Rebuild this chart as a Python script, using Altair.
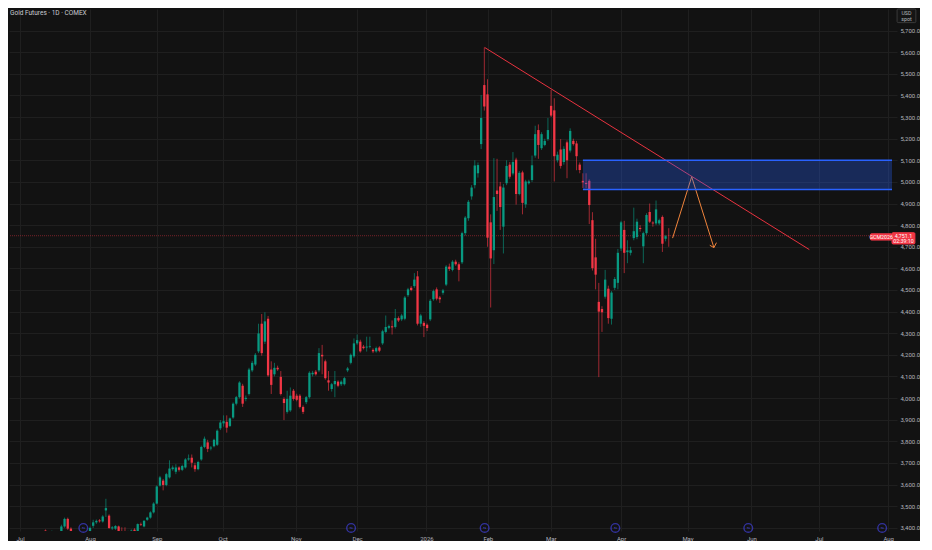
import altair as alt
import pandas as pd

# ---- daily candles (bar index 0 = first trading day of Jul 2025) ----
opens = [3345, 3355, 3360, 3342, 3330, 3345, 3335, 3360, 3387, 3372,
         3358, 3366, 3352, 3376, 3406, 3441, 3396, 3376, 3360, 3348,
         3338, 3330, 3350, 3409, 3425, 3434, 3429, 3480, 3456, 3397,
         3396, 3406, 3384, 3383, 3378, 3376, 3391, 3384, 3417, 3406,
         3437, 3447, 3471, 3512, 3595, 3618, 3598, 3633, 3671, 3659,
         3679, 3668, 3679, 3716, 3724, 3689, 3671, 3716, 3774, 3795,
         3767, 3777, 3784, 3860, 3883, 3890, 3871, 3910, 3974, 4004,
         4057, 3996, 4019, 4128, 4155, 4216, 4344, 4261, 4367, 4132,
         4110, 4140, 4098, 3996, 3936, 3943, 4034, 4011, 4011, 3959,
         3981, 4004, 4110, 4122, 4128, 4200, 4170, 4082, 4042, 4064,
         4076, 4064, 4064, 4128, 4163, 4193, 4253, 4261, 4238, 4234,
         4238, 4223, 4216, 4234, 4253, 4306, 4325, 4332, 4329, 4370,
         4364, 4367, 4476, 4510, 4518, 4563, 4344, 4348, 4339, 4364,
         4457, 4503, 4465, 4487, 4525, 4608, 4593, 4631, 4619, 4628,
         4763, 4832, 4933, 4985, 5040, 5175, 5448, 5405, 4813, 4684,
         4960, 4979, 4793, 4994, 5080, 5039, 5103, 4944, 5044, 4896,
         4994, 5009, 5122, 5240, 5156, 5171, 5198, 5352, 5331, 5100,
         5150, 5092, 5183, 5145, 5190, 5178, 5080, 5005, 4995, 5005,
         4823, 4651, 4445, 4412, 4469, 4506, 4367, 4510, 4533, 4692,
         4778, 4675, 4672, 4740, 4745, 4787, 4702, 4763, 4861, 4812,
         4808, 4808, 4838, 4737, 4752]
highs = [3362, 3370, 3368, 3350, 3352, 3350, 3365, 3385, 3392, 3378,
         3387, 3372, 3382, 3414, 3447, 3447, 3402, 3382, 3368, 3356,
         3362, 3355, 3405, 3437, 3438, 3440, 3458, 3534, 3462, 3408,
         3412, 3410, 3402, 3402, 3386, 3392, 3398, 3420, 3424, 3436,
         3451, 3476, 3518, 3596, 3640, 3626, 3654, 3712, 3688, 3694,
         3684, 3692, 3722, 3739, 3739, 3701, 3710, 3780, 3822, 3807,
         3778, 3812, 3855, 3898, 3920, 3920, 3910, 3980, 4010, 4078,
         4066, 4012, 4140, 4172, 4208, 4344, 4389, 4397, 4380, 4170,
         4163, 4150, 4125, 4004, 4034, 4049, 4042, 4020, 4018, 3966,
         4010, 4124, 4126, 4130, 4231, 4246, 4178, 4125, 4070, 4125,
         4082, 4082, 4098, 4144, 4206, 4276, 4294, 4270, 4246, 4284,
         4284, 4230, 4238, 4240, 4316, 4382, 4340, 4359, 4412, 4378,
         4390, 4472, 4510, 4518, 4578, 4588, 4390, 4356, 4345, 4458,
         4502, 4512, 4472, 4505, 4615, 4622, 4638, 4640, 4628, 4770,
         4842, 4916, 4985, 5100, 5090, 5402, 5622, 5475, 4850, 5110,
         5107, 5000, 4990, 5100, 5092, 5138, 5112, 5050, 5052, 5010,
         5010, 5122, 5260, 5266, 5230, 5200, 5296, 5425, 5387, 5140,
         5198, 5165, 5192, 5248, 5200, 5190, 5090, 5040, 5040, 5012,
         4860, 4737, 4533, 4425, 4593, 4520, 4495, 4560, 4690, 4820,
         4820, 4730, 4700, 4881, 4830, 4800, 4770, 4855, 4900, 4818,
         4914, 4830, 4845, 4755, 4786]
lows = [3330, 3340, 3335, 3320, 3318, 3325, 3330, 3350, 3362, 3352,
        3345, 3340, 3345, 3370, 3400, 3390, 3370, 3352, 3340, 3330,
        3318, 3322, 3345, 3399, 3418, 3424, 3424, 3450, 3395, 3390,
        3390, 3376, 3374, 3372, 3370, 3372, 3376, 3380, 3408, 3402,
        3432, 3442, 3466, 3508, 3590, 3573, 3592, 3628, 3664, 3648,
        3660, 3662, 3674, 3710, 3679, 3659, 3666, 3710, 3768, 3750,
        3758, 3772, 3778, 3852, 3868, 3840, 3866, 3904, 3966, 3998,
        3959, 3985, 4012, 4120, 4148, 4208, 4196, 4250, 4098, 4019,
        4100, 4126, 4012, 3898, 3928, 3936, 3988, 3985, 3952, 3926,
        3972, 3998, 4100, 4104, 4120, 4110, 4085, 4034, 4030, 4004,
        4050, 4056, 4058, 4120, 4156, 4186, 4246, 4210, 4225, 4215,
        4230, 4208, 4210, 4212, 4246, 4300, 4318, 4294, 4322, 4352,
        4356, 4360, 4468, 4494, 4510, 4336, 4330, 4282, 4310, 4356,
        4450, 4452, 4440, 4478, 4518, 4588, 4586, 4612, 4540, 4620,
        4752, 4820, 4918, 4970, 5020, 5152, 5330, 4700, 4419, 4620,
        4866, 4778, 4669, 4985, 5015, 5030, 4895, 4938, 4850, 4880,
        4988, 5000, 5112, 5107, 5148, 5165, 5190, 5300, 5002, 5090,
        5062, 5080, 5017, 5136, 5168, 5054, 5040, 4972, 4972, 4805,
        4590, 4503, 4097, 4306, 4460, 4344, 4340, 4500, 4503, 4680,
        4578, 4624, 4660, 4730, 4735, 4770, 4624, 4755, 4810, 4793,
        4800, 4800, 4676, 4725, 4700]
closes = [3355, 3360, 3342, 3330, 3345, 3335, 3360, 3375, 3381, 3358,
          3384, 3352, 3376, 3406, 3441, 3396, 3376, 3360, 3348, 3338,
          3330, 3350, 3399, 3425, 3432, 3430, 3452, 3491, 3399, 3402,
          3408, 3381, 3376, 3378, 3380, 3387, 3381, 3417, 3414, 3432,
          3447, 3471, 3512, 3591, 3633, 3598, 3648, 3674, 3679, 3679,
          3668, 3686, 3716, 3721, 3701, 3671, 3704, 3774, 3812, 3765,
          3771, 3807, 3849, 3887, 3893, 3863, 3906, 3974, 4004, 4072,
          3974, 4001, 4132, 4163, 4200, 4299, 4208, 4355, 4105, 4061,
          4140, 4133, 4019, 3977, 3996, 4011, 3996, 3992, 3959, 3936,
          4004, 4117, 4117, 4110, 4208, 4193, 4092, 4072, 4064, 4079,
          4057, 4076, 4092, 4137, 4200, 4253, 4268, 4216, 4231, 4238,
          4241, 4216, 4231, 4219, 4309, 4329, 4333, 4327, 4370, 4359,
          4382, 4465, 4503, 4500, 4548, 4344, 4382, 4334, 4324, 4450,
          4495, 4460, 4457, 4498, 4608, 4597, 4631, 4619, 4593, 4763,
          4835, 4908, 4974, 5076, 5078, 5296, 5349, 4742, 4646, 4930,
          4944, 4884, 4974, 5074, 5024, 5092, 4944, 5042, 4903, 5002,
          5002, 5077, 5221, 5171, 5221, 5190, 5240, 5307, 5119, 5126,
          5074, 5153, 5100, 5236, 5175, 5119, 5055, 4998, 4990, 4893,
          4601, 4571, 4400, 4397, 4548, 4370, 4488, 4551, 4672, 4813,
          4672, 4683, 4684, 4772, 4816, 4782, 4763, 4847, 4816, 4808,
          4873, 4823, 4714, 4749, 4751.1]

# ---- axes ----
month_pos = [0, 22, 43, 63.7, 86.7, 106, 127.8, 147.1, 166.9, 189, 209.9, 230, 251.2, 273]
month_lbl = ["Jul", "Aug", "Sep", "Oct", "Nov", "Dec", "2026", "Feb", "Mar", "Apr",
             "May", "Jun", "Jul", "Aug"]
price_ticks = [3400, 3500, 3600, 3700, 3800, 3900, 4000, 4100, 4200, 4300, 4400, 4500,
               4600, 4700, 4800, 4900, 5000, 5100, 5200, 5300, 5400, 5500, 5600, 5700]
x_domain = [-1.9, 274.2]
y_domain = [3385, 5800]

# ---- drawings ----
last_price = 4751.1
trend_x = [146.1, 248.2]
trend_y = [5622, 4687]
arrow_x = [205.2, 211.2, 218.2]
arrow_y = [4740, 5024, 4696]
head_x = [216.9, 219.0]
head_y = [4707, 4719]
zone_x = [177.0, 274.2]
zone_y = [4965, 5100]
event_x = [19.9, 104.1, 146.1, 187.2, 229.0, 271.1]
event_y = 3399

UP, DOWN = "#089981", "#f23645"
GRID = "#1f1f1f"
LBL = "#b2b5be"
FONT = "Roboto"

df = pd.DataFrame({"idx": list(range(len(opens))), "open": opens, "high": highs,
                   "low": lows, "close": closes})
df["dir"] = ["up" if c >= o else "down" for o, c in zip(opens, closes)]

xs = alt.Scale(domain=x_domain, nice=False, zero=False)
ys = alt.Scale(domain=y_domain, nice=False, zero=False)

label_expr = "''"
for p, l in reversed(list(zip(month_pos, month_lbl))):
    label_expr = f"abs(datum.value - {p}) < 0.01 ? '{l}' : ({label_expr})"

x_axis = alt.Axis(values=month_pos, labelExpr=label_expr, grid=True, gridColor=GRID,
                  domain=False, ticks=False, labelColor=LBL, labelFontSize=6,
                  labelFont=FONT, labelPadding=4, labelOverlap=False, labelFlush=False,
                  title=None)
y_axis = alt.Axis(orient="right", values=price_ticks, format=",.1f", grid=True,
                  gridColor=GRID, domain=False, ticks=False, labelColor=LBL,
                  labelFontSize=6, labelFont=FONT, labelPadding=3, labelOverlap=False,
                  title=None)


def X(f):
    return alt.X(f"{f}:Q", scale=xs, axis=x_axis)


def Y(f):
    return alt.Y(f"{f}:Q", scale=ys, axis=y_axis)


color = alt.Color("dir:N", scale=alt.Scale(domain=["up", "down"], range=[UP, DOWN]),
                  legend=None)

wicks = alt.Chart(df).mark_rule(strokeWidth=0.9, opacity=0.7, clip=True).encode(
    x=X("idx"), y=Y("low"), y2="high:Q", color=color)

bodies = alt.Chart(df).mark_bar(size=2.3, clip=True).encode(
    x=X("idx"), y=Y("open"), y2="close:Q", color=color)

price_line = alt.Chart(pd.DataFrame({"p": [last_price]})).mark_rule(
    color=DOWN, strokeWidth=1, strokeDash=[1, 1], opacity=0.45).encode(y=Y("p"))

trend = alt.Chart(pd.DataFrame({"x": [trend_x[0]], "x2": [trend_x[1]],
                                "y": [trend_y[0]], "y2": [trend_y[1]]})).mark_rule(
    color="#e8323f", strokeWidth=1).encode(x=X("x"), x2="x2:Q", y=Y("y"), y2="y2:Q")

seg = pd.DataFrame({
    "x": [arrow_x[0], arrow_x[1], arrow_x[2], arrow_x[2]],
    "y": [arrow_y[0], arrow_y[1], arrow_y[2], arrow_y[2]],
    "x2": [arrow_x[1], arrow_x[2], head_x[0], head_x[1]],
    "y2": [arrow_y[1], arrow_y[2], head_y[0], head_y[1]],
})
arrow = alt.Chart(seg).mark_rule(color="#f0843c", strokeWidth=1).encode(
    x=X("x"), x2="x2:Q", y=Y("y"), y2="y2:Q")

zone = alt.Chart(pd.DataFrame({"x": [zone_x[0]], "x2": [zone_x[1]],
                               "y": [zone_y[0]], "y2": [zone_y[1]]})).mark_rect(
    color="#2962ff", opacity=0.3).encode(x=X("x"), x2="x2:Q", y=Y("y"), y2="y2:Q")
zone_edges = alt.Chart(pd.DataFrame({"x": [zone_x[0]] * 2, "x2": [zone_x[1]] * 2,
                                     "y": zone_y})).mark_rule(
    color="#2962ff", strokeWidth=1.5).encode(x=X("x"), x2="x2:Q", y=Y("y"))

ev = pd.DataFrame({"x": event_x, "y": [event_y] * len(event_x)})
events = alt.Chart(ev).mark_point(shape="circle", filled=False, size=75, strokeWidth=1.4,
                                  color="#4040d8", clip=False).encode(x=X("x"), y=Y("y"))
events_in = alt.Chart(ev).mark_point(shape="M-0.6,0L0.6,0M-0.6,0L-0.3,-0.3M0.6,0L0.3,0.3",
                                     filled=False, size=22, strokeWidth=1,
                                     color="#4040d8", clip=False).encode(x=X("x"), y=Y("y"))

# price label boxes on the right edge
boxes = pd.DataFrame({
    "x": [267.4, 274.2, 275.8],
    "x2": [274.2, 281.4, 281.7],
    "y": [4731, 4713, 5737],
    "y2": [4760, 4765, 5800],
    "k": ["a", "b", "c"],
})
box_marks = alt.Chart(boxes).mark_rect(clip=False, cornerRadius=1).encode(
    x=X("x"), x2="x2:Q", y=Y("y"), y2="y2:Q",
    color=alt.Color("k:N", scale=alt.Scale(domain=["a", "b", "c"],
                                           range=[DOWN, DOWN, "#151515"]), legend=None),
    stroke=alt.Stroke("k:N", scale=alt.Scale(domain=["a", "b", "c"],
                                             range=[DOWN, DOWN, "#3a3a3a"]), legend=None),
)
texts = pd.DataFrame({
    "x": [270.8, 277.8, 277.8, 278.75, 278.75],
    "y": [4746, 4750, 4726, 5782, 5753],
    "t": ["GCM2026", "4,751.1", "02:39:10", "USD", "spot"],
    "c": ["w", "w", "w", "g", "g"],
})
text_marks = alt.Chart(texts).mark_text(fontSize=5.3, font=FONT, clip=False,
                                        baseline="middle", align="center").encode(
    x=X("x"), y=Y("y"), text="t:N",
    color=alt.Color("c:N", scale=alt.Scale(domain=["w", "g"], range=["#ffffff", LBL]),
                    legend=None))

title = alt.Chart(pd.DataFrame({"t": ["Gold Futures · 1D · COMEX"]})).mark_text(
    align="left", baseline="top", fontSize=6.5, font=FONT, color="#c9cbd1").encode(
    x=alt.value(1), y=alt.value(1), text="t:N")

chart = alt.layer(
    wicks, price_line, bodies, trend, arrow, zone, zone_edges, events, events_in,
    box_marks, text_marks, title,
).resolve_scale(color="independent").properties(
    width=888, height=522, padding=0, background="#121212",
).configure_view(strokeWidth=0)

chart.save("out.html", embed_options={"renderer": "svg", "actions": False})
